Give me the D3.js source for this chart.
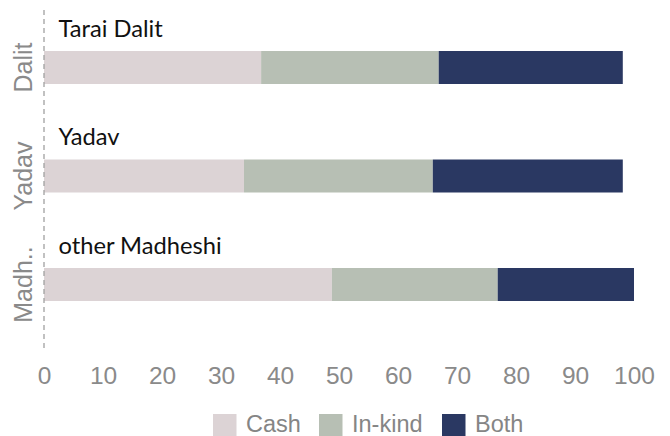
<!DOCTYPE html>
<html><head><meta charset="utf-8">
<script src="https://cdn.jsdelivr.net/npm/d3@7"></script>
<style>
html,body{margin:0;padding:0;background:#fff;}
svg{display:block;}
</style>
</head><body>
<svg id="chart" width="670" height="436"></svg>
<script>
const categories = ["Dalit", "Yadav", "Madh.."];
const groupLabels = ["Tarai Dalit", "Yadav", "other Madheshi"];
const seriesNames = ["Cash", "In-kind", "Both"];
const cash = [36.8, 33.9, 48.8];
const inKind = [30.1, 32.0, 28.1];
const both = [31.2, 32.2, 23.1];
const xTicks = [0, 10, 20, 30, 40, 50, 60, 70, 80, 90, 100];
const colors = ["#dcd3d5", "#b7bfb4", "#2a3862"];

const svg = d3.select("#chart");
const x = d3.scaleLinear().domain([0, 100]).range([44, 634]);
const y = d3.scalePoint().domain(categories).range([67.5, 284.5]);
const barH = 33;
const sansFont = "'Liberation Sans', Arial, Helvetica, sans-serif";

const rows = categories.map((c, i) => ({cat: c, label: groupLabels[i], Cash: cash[i], "In-kind": inKind[i], Both: both[i]}));
const stack = d3.stack().keys(seriesNames)(rows);
const color = d3.scaleOrdinal().domain(seriesNames).range(colors);

// bars
svg.append("g").selectAll("g").data(stack).join("g")
  .attr("fill", d => color(d.key))
  .selectAll("rect").data(d => d).join("rect")
  .attr("x", d => x(d[0]))
  .attr("width", d => x(d[1]) - x(d[0]))
  .attr("y", d => y(d.data.cat) - barH / 2)
  .attr("height", barH);

// dashed axis line
svg.append("line")
  .attr("x1", x(0)).attr("x2", x(0))
  .attr("y1", 10).attr("y2", 348)
  .attr("stroke", "#a0a0a0").attr("stroke-width", 1.3)
  .attr("stroke-dasharray", "5,4");

// group labels above bars
svg.append("g").selectAll("text").data(rows).join("text")
  .attr("x", 58.5)
  .attr("y", d => y(d.cat) - barH / 2 - 14.5)
  .style("font-family", "Lato, sans-serif")
  .style("font-size", "23.7px")
  .attr("fill", "#111")
  .text(d => d.label);

// y axis labels (rotated)
svg.append("g").selectAll("text").data(categories).join("text")
  .attr("transform", d => `translate(32,${y(d)}) rotate(-90)`)
  .attr("text-anchor", "middle")
  .style("font-family", sansFont)
  .style("font-size", "25px")
  .attr("fill", "#8a8a8a")
  .text(d => d);

// x axis
const xAxis = svg.append("g")
  .attr("transform", "translate(0,355)")
  .call(d3.axisBottom(x).tickValues(xTicks).tickSize(0).tickPadding(0).tickFormat(d3.format("d")));
xAxis.select(".domain").remove();
xAxis.selectAll("text")
  .attr("dy", null)
  .attr("y", 29)
  .style("font-family", sansFont)
  .style("font-size", "24.5px")
  .attr("fill", "#8a8a8a");

// legend
const legendX = [213, 319, 442];
const leg = svg.append("g").selectAll("g").data(seriesNames).join("g")
  .attr("transform", (d, i) => `translate(${legendX[i]},414)`);
leg.append("rect").attr("width", 23.5).attr("height", 23).attr("fill", d => color(d));
leg.append("text")
  .attr("x", 33).attr("y", 18)
  .style("font-family", sansFont)
  .style("font-size", "23.5px")
  .attr("fill", "#858585")
  .text(d => d);
</script>
</body></html>
